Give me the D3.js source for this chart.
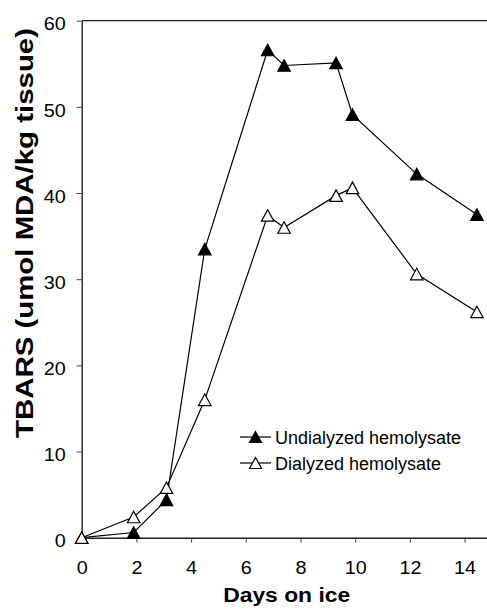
<!DOCTYPE html>
<html><head><meta charset="UTF-8">
<title>TBARS vs days on ice</title>
<script src="https://d3js.org/d3.v7.min.js"></script>
<style>
  body { margin: 0; background: #fff; }
  text { font-family: "Liberation Sans", Arial, sans-serif; fill: #000; }
</style>
</head>
<body>
<svg width="487" height="616"></svg>
<script>
  // data
  const days = [0, 1.9, 3.1, 4.5, 6.8, 7.4, 9.3, 9.9, 12.25, 14.45];
  const undialyzed = [0, 0.6, 4.4, 33.5, 56.6, 54.8, 55.1, 49.1, 42.2, 37.5];
  const dialyzed = [0, 2.4, 5.8, 16.0, 37.4, 36.0, 39.7, 40.6, 30.6, 26.2];
  const xTicks = [0, 2, 4, 6, 8, 10, 12, 14];
  const yTicks = [0, 10, 20, 30, 40, 50, 60];
  const seriesNames = ["Undialyzed hemolysate", "Dialyzed hemolysate"];

  const svg = d3.select("svg");

  const x = d3.scaleLinear().domain([0, 15]).range([81.7, 81.7 + 15 * 27.35]);
  const y = d3.scaleLinear().domain([0, 60]).range([537.7, 20.7]);

  // triangle marker, centred on its bounding box
  const tri = (w, h) => `M0,${-h/2}L${w/2},${h/2}L${-w/2},${h/2}Z`;

  // top frame line
  svg.append("line")
    .attr("x1", x(0)).attr("x2", x(15))
    .attr("y1", y(60)).attr("y2", y(60))
    .attr("stroke", "#222").attr("stroke-width", 1.3);

  // axes
  const xAxis = svg.append("g")
    .attr("transform", `translate(0,${y(0)})`)
    .call(d3.axisBottom(x).tickValues(xTicks).tickSize(5).tickSizeOuter(0).tickPadding(18));
  const yAxis = svg.append("g")
    .attr("transform", `translate(${x(0)},0)`)
    .call(d3.axisLeft(y).tickValues(yTicks).tickSize(5).tickSizeOuter(0).tickPadding(11));

  [xAxis, yAxis].forEach(g => {
    g.select(".domain").attr("stroke", "#222").attr("stroke-width", 1.4);
    g.selectAll(".tick line").attr("stroke", "#444").attr("stroke-width", 1);
    g.selectAll(".tick text")
      .attr("font-family", "Liberation Sans, Arial, sans-serif")
      .attr("font-size", 18.5).attr("fill", "#000")
      .attr("textLength", function() { return this.textContent.length * 11; })
      .attr("lengthAdjust", "spacingAndGlyphs");
  });
  yAxis.selectAll(".tick text").attr("dy", "0.5em");

  // axis titles
  svg.append("text")
    .attr("x", 286.7).attr("y", 602)
    .attr("text-anchor", "middle")
    .attr("font-size", 20).attr("font-weight", "bold")
    .attr("textLength", 127).attr("lengthAdjust", "spacingAndGlyphs")
    .text("Days on ice");

  svg.append("text")
    .attr("transform", "translate(33,233) rotate(-90)")
    .attr("text-anchor", "middle")
    .attr("font-size", 23).attr("font-weight", "bold")
    .attr("textLength", 410).attr("lengthAdjust", "spacingAndGlyphs")
    .text("TBARS (umol MDA/kg tissue)");

  // series
  const line = d3.line().x(d => x(d[0])).y(d => y(d[1]));
  const series = [
    {name: seriesNames[0], values: days.map((d, i) => [d, undialyzed[i]]), fill: "#000"},
    {name: seriesNames[1], values: days.map((d, i) => [d, dialyzed[i]]), fill: "#fff"}
  ];

  series.forEach(s => {
    svg.append("path")
      .attr("d", line(s.values))
      .attr("fill", "none").attr("stroke", "#000").attr("stroke-width", 1.2);
  });
  series.forEach(s => {
    svg.selectAll(null)
      .data(s.values)
      .join("path")
        .attr("d", tri(12.5, 11.5))
        .attr("transform", d => `translate(${x(d[0])},${y(d[1])})`)
        .attr("fill", s.fill).attr("stroke", "#000").attr("stroke-width", 1.2);
  });

  // legend
  const legend = svg.append("g").attr("transform", "translate(240,437)");
  const rows = legend.selectAll("g")
    .data(series)
    .join("g")
      .attr("transform", (d, i) => `translate(0,${i * 26})`);
  rows.append("line")
    .attr("x1", 0).attr("x2", 31).attr("y1", 0).attr("y2", 0)
    .attr("stroke", "#000").attr("stroke-width", 1.2);
  rows.append("path")
    .attr("d", tri(12, 11))
    .attr("transform", "translate(15.5,0)")
    .attr("fill", d => d.fill).attr("stroke", "#000").attr("stroke-width", 1.2);
  rows.append("text")
    .attr("x", 35).attr("y", 6.5)
    .attr("font-size", 18)
    .text(d => d.name);
</script>
</body></html>
